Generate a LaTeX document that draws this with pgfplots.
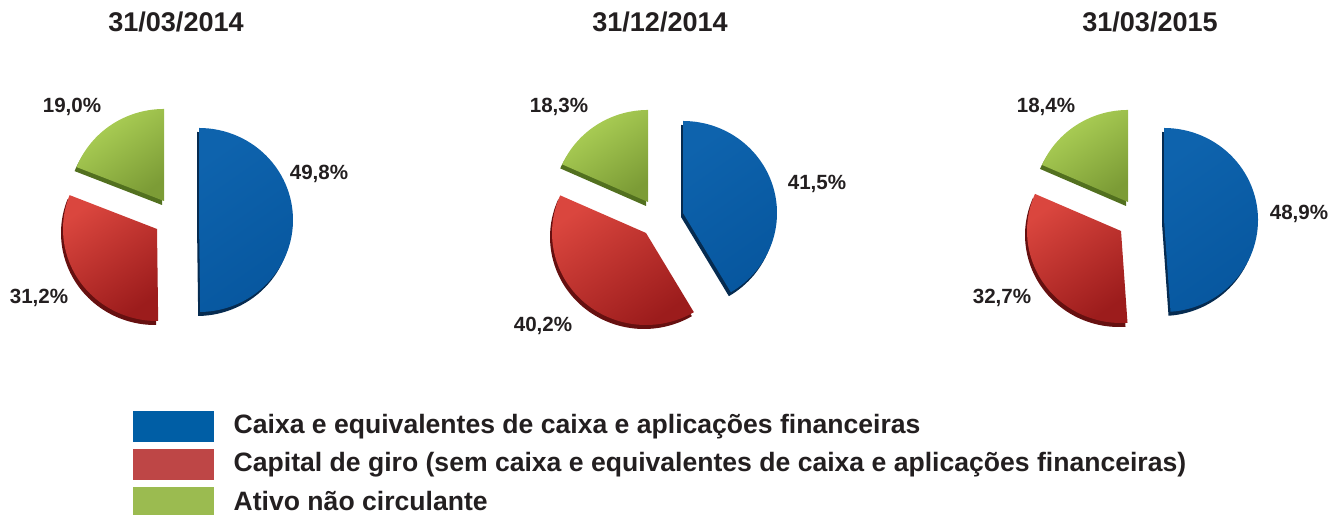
\documentclass[border=0pt]{standalone}
\usepackage{pgfplots}
\pgfplotsset{compat=1.18}
\usepackage{fontspec}
\setmainfont{Liberation Sans}
\definecolor{txt}{HTML}{231F20}
\definecolor{bluelt}{HTML}{0E63AD}
\definecolor{bluedk}{HTML}{07579F}
\definecolor{blueed}{HTML}{062B50}
\definecolor{redlt}{HTML}{DA463E}
\definecolor{reddk}{HTML}{9C1C1C}
\definecolor{reded}{HTML}{661010}
\definecolor{grnlt}{HTML}{AFD358}
\definecolor{grndk}{HTML}{7C9C36}
\definecolor{grned}{HTML}{52701F}
\definecolor{legblue}{HTML}{005EA5}
\definecolor{legred}{HTML}{BE4646}
\definecolor{leggrn}{HTML}{9BBB50}
% \slice{cx}{cy}{cumulative % before}{%}{light}{dark}{edge}
\newcommand{\slice}[7]{%
  \pgfmathsetmacro{\aS}{90-3.6*(#3)}%
  \pgfmathsetmacro{\aE}{90-3.6*(#3+#4)}%
  \addplot[draw=none, fill=#7, domain=\aE:\aS, samples=60]
    ({#1-2+94*cos(x)}, {#2+4-92*sin(x)}) -- (axis cs:#1-2,#2+4) -- cycle;
  \addplot[draw=none, top color=#5, bottom color=#6, shading angle=35, domain=\aE:\aS, samples=60]
    ({#1+94*cos(x)}, {#2-92*sin(x)}) -- (axis cs:#1,#2) -- cycle;
}
\begin{document}
\begin{tikzpicture}
\begin{axis}[scale only axis, width=13.32cm, height=5.15cm,
  xmin=0, xmax=1332, ymin=0, ymax=515, y dir=reverse,
  hide axis, clip=false]
% Pie 1: 31/03/2014 -- 49.8 / 31.2 / 19.0
\slice{199}{220}{0}{49.8}{bluelt}{bluedk}{blueed}
\slice{157}{229}{49.8}{31.2}{redlt}{reddk}{reded}
\slice{164}{201}{81.0}{19.0}{grnlt}{grndk}{grned}
% Pie 2: 31/12/2014 -- 41.5 / 40.2 / 18.3
\slice{683}{213}{0}{41.5}{bluelt}{bluedk}{blueed}
\slice{646}{233}{41.5}{40.2}{redlt}{reddk}{reded}
\slice{648}{202}{81.7}{18.3}{grnlt}{grndk}{grned}
% Pie 3: 31/03/2015 -- 48.9 / 32.7 / 18.4
\slice{1164}{220}{0}{48.9}{bluelt}{bluedk}{blueed}
\slice{1121}{231}{48.9}{32.7}{redlt}{reddk}{reded}
\slice{1128}{202}{81.6}{18.4}{grnlt}{grndk}{grned}
% titles
\tikzset{ttl/.style={font=\fontsize{7.7pt}{9pt}\selectfont\bfseries, text=txt, inner sep=0pt},
         pct/.style={font=\fontsize{5.85pt}{7pt}\selectfont\bfseries, text=txt, inner sep=0pt},
         leg/.style={font=\fontsize{7.56pt}{9pt}\selectfont\bfseries, text=txt, inner sep=0pt, anchor=west}}
\node[ttl] at (axis cs:176,22) {31/03/2014};
\node[ttl] at (axis cs:660,22) {31/12/2014};
\node[ttl] at (axis cs:1150,22) {31/03/2015};
\node[pct] at (axis cs:72,107) {19,0\%};
\node[pct] at (axis cs:319,174) {49,8\%};
\node[pct] at (axis cs:39,298) {31,2\%};
\node[pct] at (axis cs:559,107) {18,3\%};
\node[pct] at (axis cs:817,184) {41,5\%};
\node[pct] at (axis cs:543,326) {40,2\%};
\node[pct] at (axis cs:1046,107) {18,4\%};
\node[pct] at (axis cs:1299,214) {48,9\%};
\node[pct] at (axis cs:1002,298) {32,7\%};
% legend
\fill[legblue] (axis cs:133,411) rectangle (axis cs:214,442);
\fill[legred] (axis cs:133,449) rectangle (axis cs:214,480);
\fill[leggrn] (axis cs:133,487) rectangle (axis cs:214,515);
\node[leg] at (axis cs:233,426.5) {Caixa e equivalentes de caixa e aplicações financeiras};
\node[leg] at (axis cs:233,465) {Capital de giro (sem caixa e equivalentes de caixa e aplicações financeiras)};
\node[leg] at (axis cs:233,501) {Ativo não circulante};
\end{axis}
\pgfresetboundingbox
\path (0,0) rectangle (13.32cm,5.15cm);
\end{tikzpicture}
\end{document}
